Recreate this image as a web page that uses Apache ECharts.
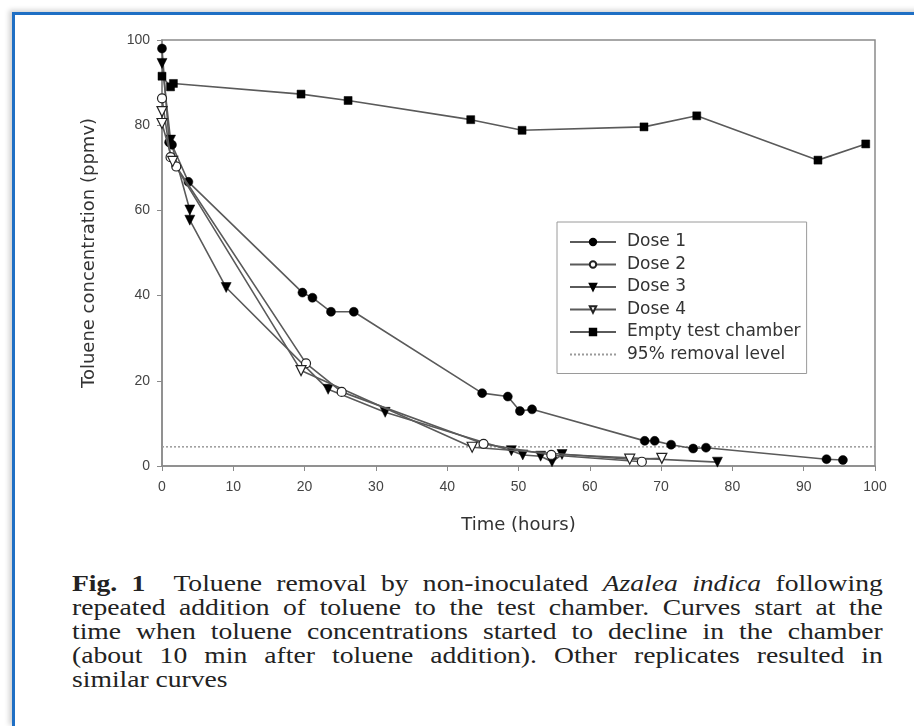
<!DOCTYPE html>
<html>
<head>
<meta charset="utf-8">
<script src="https://cdn.jsdelivr.net/npm/echarts@6/dist/echarts.min.js"></script>
<style>
  body{ margin:0; background:#fff; }
  #frame{
    position:absolute; left:12px; top:12px; width:920px; height:711px;
    border-top:3px solid #1f6fc4; border-left:3px solid #1f6fc4;
    border-bottom:1px solid #e2e2e2;
    box-shadow:-3px -2px 5px rgba(0,0,0,0.18);
  }
  #chart{ position:absolute; left:0; top:0; width:914px; height:560px; }
  #caption{
    position:absolute; left:72px; top:571px; width:705px;
    transform:scaleX(1.15); transform-origin:0 0;
    font-family:"Liberation Serif","DejaVu Serif",serif; font-size:24px; line-height:24px;
    color:#222;
  }
  #caption div{ text-align:justify; text-align-last:justify; white-space:nowrap; }
  #caption div.last{ text-align-last:left; }
</style>
</head>
<body>
<div id="frame"></div>
<div id="chart"></div>
<div id="caption">
  <div><b>Fig. 1</b>&nbsp; Toluene removal by non-inoculated <i>Azalea indica</i> following</div>
  <div>repeated addition of toluene to the test chamber. Curves start at the</div>
  <div>time when toluene concentrations started to decline in the chamber</div>
  <div>(about 10 min after toluene addition). Other replicates resulted in</div>
  <div class="last">similar curves</div>
</div>
<script>
  // values: [time (h), toluene (ppmv)]
  var dose1 = [[0,98],[1.0,76],[1.4,75.4],[3.7,66.7],[19.7,40.7],[21.1,39.5],[23.7,36.2],[26.9,36.2],
    [44.9,17.1],[48.5,16.3],[50.2,12.9],[51.9,13.3],[67.7,5.9],[69.1,5.9],[71.4,5.0],[74.5,4.1],
    [76.3,4.3],[93.2,1.6],[95.5,1.4]];
  var dose2 = [[0,86.3],[1.2,72.5],[2.0,70.3],[20.2,24.1],[25.2,17.4],[45.1,5.2],[54.6,2.6],[67.3,1.0]];
  var dose3 = [[0,94.5],[1.2,76.5],[3.9,60.1],[3.9,57.7],[9.0,41.9],[23.3,18.0],[31.3,12.6],[49.0,3.6],
    [50.6,2.6],[53.1,2.3],[54.7,1.0],[56.1,2.7],[77.9,0.9]];
  var dose4 = [[0,83.2],[0,80.4],[1.5,71.5],[19.5,22.4],[43.5,4.4],[65.6,1.6],[70.1,1.8]];
  var emptyChamber = [[0,91.5],[1.2,89.0],[1.6,89.8],[19.5,87.3],[26.1,85.8],[43.3,81.3],[50.5,78.8],
    [67.6,79.6],[75.0,82.2],[92.0,71.8],[98.7,75.6]];
  var removalLevel = [[0,4.5],[100,4.5]];
  var xTicks = [0,10,20,30,40,50,60,70,80,90,100];
  var yTicks = [0,20,40,60,80,100];

  var chart = echarts.init(document.getElementById('chart'));
  var lineCol = '#5a5a5a';
  var triDown = 'path://M0,0 L10,0 L5,9 Z';
  var wideFont = 'DejaVu Sans, Liberation Sans, sans-serif';

  function mk(name, data, symbol, size, filled){
    return {
      name: name, type: 'line', data: data,
      symbol: symbol, symbolSize: size,
      lineStyle: { color: lineCol, width: 1.6 },
      itemStyle: filled ? { color: '#000', borderColor: '#000', borderWidth: 0.5 }
                        : { color: '#fff', borderColor: '#222', borderWidth: 1.2 },
      z: filled ? 3 : 4
    };
  }

  var option = {
    animation: false,
    textStyle: { fontFamily: 'Liberation Sans, Arial, sans-serif' },
    grid: { left: 162, top: 40, right: 39, bottom: 94, show: true, borderColor: '#8a8a8a', borderWidth: 1.5 },
    xAxis: {
      type: 'value', min: 0, max: 100, interval: 10,
      name: 'Time (hours)', nameLocation: 'middle', nameGap: 50,
      nameTextStyle: { fontSize: 18, color: '#333', fontFamily: wideFont },
      axisLine: { lineStyle: { color: '#8a8a8a', width: 1.5 } },
      axisTick: { length: 5, lineStyle: { color: '#8a8a8a' } },
      axisLabel: { fontSize: 14, color: '#444', margin: 14,
        formatter: function(v){ return xTicks.indexOf(v) >= 0 ? v : ''; } },
      splitLine: { show: false }
    },
    yAxis: {
      type: 'value', min: 0, max: 100, interval: 20,
      name: 'Toluene concentration (ppmv)', nameLocation: 'middle', nameGap: 64,
      nameTextStyle: { fontSize: 18, color: '#333', fontFamily: wideFont },
      axisLine: { show: true, lineStyle: { color: '#8a8a8a', width: 1.5 } },
      axisTick: { show: true, length: 5, lineStyle: { color: '#8a8a8a' } },
      axisLabel: { fontSize: 14, color: '#444', margin: 12,
        formatter: function(v){ return yTicks.indexOf(v) >= 0 ? v : ''; } },
      splitLine: { show: false }
    },
    legend: {
      orient: 'vertical', left: 557, top: 222,
      borderColor: '#9a9a9a', borderWidth: 1,
      padding: [11, 6, 10, 12],
      itemWidth: 46, itemHeight: 8, itemGap: 4.5,
      textStyle: { fontSize: 17, lineHeight: 18, color: '#333', fontFamily: wideFont, padding: [0, 0, 0, 6] },
      data: ['Dose 1','Dose 2','Dose 3','Dose 4','Empty test chamber',
        { name: '95% removal level', itemStyle: { opacity: 0 } }]
    },
    series: [
      {
        name: '95% removal level', type: 'line', data: removalLevel, symbol: 'none', showSymbol: false,
        lineStyle: { color: '#9a9a9a', width: 1.5, type: [2, 2] }, itemStyle: { color: '#9a9a9a' }, z: 1
      },
      mk('Dose 1', dose1, 'circle', 9, true),
      mk('Dose 2', dose2, 'circle', 9, false),
      mk('Dose 3', dose3, triDown, 10, true),
      mk('Dose 4', dose4, triDown, 10, false),
      mk('Empty test chamber', emptyChamber, 'rect', 8, true)
    ]
  };
  chart.setOption(option);
</script>
</body>
</html>
